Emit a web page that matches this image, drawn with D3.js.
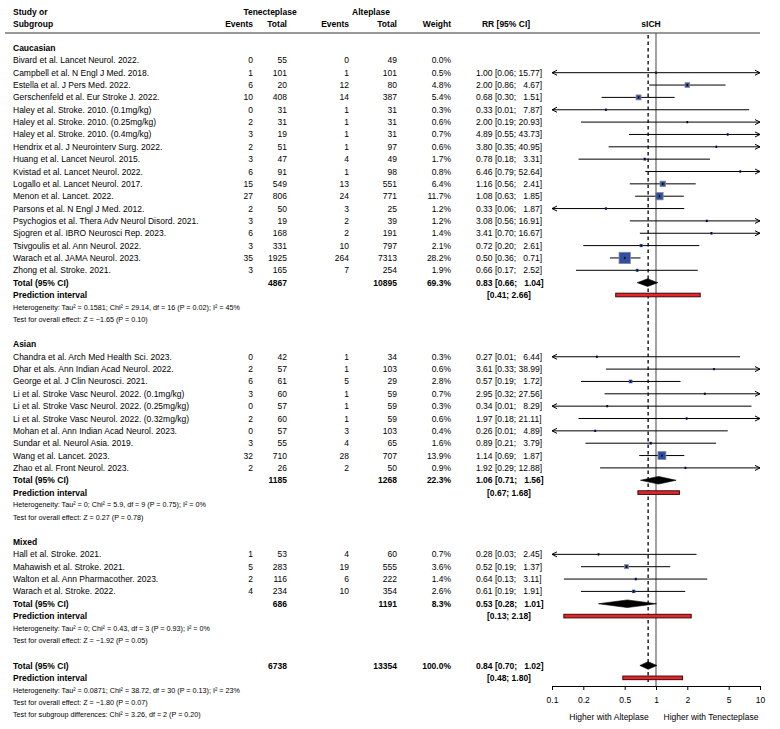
<!DOCTYPE html>
<html><head><meta charset="utf-8">
<script src="https://cdn.jsdelivr.net/npm/d3@7"></script>
<style>
body{margin:0;background:#fff}
svg{display:block}
text{font-family:"Liberation Sans",Arial,Helvetica,sans-serif;white-space:pre;fill:#000}
</style>
</head><body>
<svg id="c" width="780" height="729"></svg>
<script>
// ---------- DATA ----------
// [study, TNK events, TNK total, ALT events, ALT total, weight %, RR, lower, upper]
const caucasian = [
  ["Bivard et al. Lancet Neurol. 2022.", 0, 55, 0, 49, 0.0, null, null, null],
  ["Campbell et al. N Engl J Med. 2018.", 1, 101, 1, 101, 0.5, 1.00, 0.06, 15.77],
  ["Estella et al. J Pers Med. 2022.", 6, 20, 12, 80, 4.8, 2.00, 0.86, 4.67],
  ["Gerschenfeld et al. Eur Stroke J. 2022.", 10, 408, 14, 387, 5.4, 0.68, 0.30, 1.51],
  ["Haley et al. Stroke. 2010. (0.1mg/kg)", 0, 31, 1, 31, 0.3, 0.33, 0.01, 7.87],
  ["Haley et al. Stroke. 2010. (0.25mg/kg)", 2, 31, 1, 31, 0.6, 2.00, 0.19, 20.93],
  ["Haley et al. Stroke. 2010. (0.4mg/kg)", 3, 19, 1, 31, 0.7, 4.89, 0.55, 43.73],
  ["Hendrix et al. J Neurointerv Surg. 2022.", 2, 51, 1, 97, 0.6, 3.80, 0.35, 40.95],
  ["Huang et al. Lancet Neurol. 2015.", 3, 47, 4, 49, 1.7, 0.78, 0.18, 3.31],
  ["Kvistad et al. Lancet Neurol. 2022.", 6, 91, 1, 98, 0.8, 6.46, 0.79, 52.64],
  ["Logallo et al. Lancet Neurol. 2017.", 15, 549, 13, 551, 6.4, 1.16, 0.56, 2.41],
  ["Menon et al. Lancet. 2022.", 27, 806, 24, 771, 11.7, 1.08, 0.63, 1.85],
  ["Parsons et al. N Engl J Med. 2012.", 2, 50, 3, 25, 1.2, 0.33, 0.06, 1.87],
  ["Psychogios et al. Thera Adv Neurol Disord. 2021.", 3, 19, 2, 39, 1.2, 3.08, 0.56, 16.91],
  ["Sjogren et al. IBRO Neurosci Rep. 2023.", 6, 168, 2, 191, 1.4, 3.41, 0.70, 16.67],
  ["Tsivgoulis et al. Ann Neurol. 2022.", 3, 331, 10, 797, 2.1, 0.72, 0.20, 2.61],
  ["Warach et al. JAMA Neurol. 2023.", 35, 1925, 264, 7313, 28.2, 0.50, 0.36, 0.71],
  ["Zhong et al. Stroke. 2021.", 3, 165, 7, 254, 1.9, 0.66, 0.17, 2.52]
];
const asian = [
  ["Chandra et al. Arch Med Health Sci. 2023.", 0, 42, 1, 34, 0.3, 0.27, 0.01, 6.44],
  ["Dhar et als. Ann Indian Acad Neurol. 2022.", 2, 57, 1, 103, 0.6, 3.61, 0.33, 38.99],
  ["George et al. J Clin Neurosci. 2021.", 6, 61, 5, 29, 2.8, 0.57, 0.19, 1.72],
  ["Li et al. Stroke Vasc Neurol. 2022. (0.1mg/kg)", 3, 60, 1, 59, 0.7, 2.95, 0.32, 27.56],
  ["Li et al. Stroke Vasc Neurol. 2022. (0.25mg/kg)", 0, 57, 1, 59, 0.3, 0.34, 0.01, 8.29],
  ["Li et al. Stroke Vasc Neurol. 2022. (0.32mg/kg)", 2, 60, 1, 59, 0.6, 1.97, 0.18, 21.11],
  ["Mohan et al. Ann Indian Acad Neurol. 2023.", 0, 57, 3, 103, 0.4, 0.26, 0.01, 4.89],
  ["Sundar et al. Neurol Asia. 2019.", 3, 55, 4, 65, 1.6, 0.89, 0.21, 3.79],
  ["Wang et al. Lancet. 2023.", 32, 710, 28, 707, 13.9, 1.14, 0.69, 1.87],
  ["Zhao et al. Front Neurol. 2023.", 2, 26, 2, 50, 0.9, 1.92, 0.29, 12.88]
];
const mixed = [
  ["Hall et al. Stroke. 2021.", 1, 53, 4, 60, 0.7, 0.28, 0.03, 2.45],
  ["Mahawish et al. Stroke. 2021.", 5, 283, 19, 555, 3.6, 0.52, 0.19, 1.37],
  ["Walton et al. Ann Pharmacother. 2023.", 2, 116, 6, 222, 1.4, 0.64, 0.13, 3.11],
  ["Warach et al. Stroke. 2022.", 4, 234, 10, 354, 2.6, 0.61, 0.19, 1.91]
];
const subgroupNames = ["Caucasian", "Asian", "Mixed"];
// [TNK total, ALT total, weight, RR, lower, upper, PI lower, PI upper]
const subgroupTotals = [
  [4867, 10895, 69.3, 0.83, 0.66, 1.04, 0.41, 2.66],
  [1185, 1268, 22.3, 1.06, 0.71, 1.56, 0.67, 1.68],
  [686, 1191, 8.3, 0.53, 0.28, 1.01, 0.13, 2.18]
];
const subgroupHet = [
  "Heterogeneity: Tau\u00b2 = 0.1581; Chi\u00b2 = 29.14, df = 16 (P = 0.02); I\u00b2 = 45%",
  "Heterogeneity: Tau\u00b2 = 0; Chi\u00b2 = 5.9, df = 9 (P = 0.75); I\u00b2 = 0%",
  "Heterogeneity: Tau\u00b2 = 0; Chi\u00b2 = 0.43, df = 3 (P = 0.93); I\u00b2 = 0%"
];
const subgroupTest = [
  "Test for overall effect: Z = \u22121.65 (P = 0.10)",
  "Test for overall effect: Z = 0.27 (P = 0.78)",
  "Test for overall effect: Z = \u22121.92 (P = 0.05)"
];
const overallTotal = [6738, 13354, 100.0, 0.84, 0.70, 1.02, 0.48, 1.80];
const overallNotes = [
  "Heterogeneity: Tau\u00b2 = 0.0871; Chi\u00b2 = 38.72, df = 30 (P = 0.13); I\u00b2 = 23%",
  "Test for overall effect: Z = \u22121.80 (P = 0.07)",
  "Test for subgroup differences: Chi\u00b2 = 3.26, df = 2 (P = 0.20)"
];
const axisTicks = [0.1, 0.2, 0.5, 1, 2, 5, 10];
const axisLabels = ["Higher with Alteplase", "Higher with Tenecteplase"];

// ---------- LAYOUT ----------
const svg = d3.select("#c");
const x = d3.scaleLog().domain([0.1, 10]).range([552, 760]);
const ROW0 = 48, DY = 12.35;
const rowY = i => ROW0 + i * DY;
const FS = 8.5, FSS = 7.2;
const col = {name: 13, eT: 253, nT: 287, eA: 349, nA: 397, w: 451, ci: 476, pi: 487};
const f2 = d3.format(".2f"), f1 = d3.format(".1f");
const ciText = (r, l, h) => `${f2(r)} [${f2(l)}; ${h < 10 ? "  " : ""}${f2(h)}]`;

const groups = [caucasian, asian, mixed];
const rows = [];
let idx = 0;
groups.forEach((g, gi) => {
  rows.push({type: "group", label: subgroupNames[gi], i: idx++});
  g.forEach(s => rows.push({type: "study", s, i: idx++}));
  rows.push({type: "total", t: subgroupTotals[gi], i: idx++});
  rows.push({type: "pi", t: subgroupTotals[gi], i: idx++});
  rows.push({type: "note", text: subgroupHet[gi], i: idx++});
  rows.push({type: "note", text: subgroupTest[gi], i: idx++});
  idx++;
});
rows.push({type: "total", t: overallTotal, i: idx++, overall: true});
rows.push({type: "pi", t: overallTotal, i: idx++});
overallNotes.forEach(n => rows.push({type: "note", text: n, i: idx++}));

const yTop = 33, yAxis = 686;

function txt(xp, yp, s, opt = {}) {
  return svg.append("text").attr("x", xp).attr("y", yp)
    .attr("font-size", opt.fs || FS)
    .attr("font-weight", opt.bold ? "bold" : null)
    .attr("text-anchor", opt.anchor || "start")
    .text(s);
}
const hy1 = 15, hy2 = 27;
txt(col.name, hy1, "Study or", {bold: true});
txt(col.name, hy2, "Subgroup", {bold: true});
txt(270, hy1, "Tenecteplase", {bold: true, anchor: "middle"});
txt(371, hy1, "Alteplase", {bold: true, anchor: "middle"});
txt(col.eT, hy2, "Events", {bold: true, anchor: "end"});
txt(col.nT, hy2, "Total", {bold: true, anchor: "end"});
txt(col.eA, hy2, "Events", {bold: true, anchor: "end"});
txt(col.nA, hy2, "Total", {bold: true, anchor: "end"});
txt(col.w, hy2, "Weight", {bold: true, anchor: "end"});
txt(506, hy2, "RR [95% CI]", {bold: true, anchor: "middle"});
txt(651, hy2, "sICH", {bold: true, anchor: "middle"});
svg.append("line").attr("x1", 5).attr("x2", 760).attr("y1", yTop).attr("y2", yTop)
  .attr("stroke", "#333").attr("stroke-width", 1);

// reference lines
svg.append("line").attr("x1", x(1)).attr("x2", x(1)).attr("y1", yTop).attr("y2", yAxis)
  .attr("stroke", "#555").attr("stroke-width", 1.1);
svg.append("line").attr("x1", x(overallTotal[3])).attr("x2", x(overallTotal[3]))
  .attr("y1", yTop + 2).attr("y2", yAxis - 4)
  .attr("stroke", "#000").attr("stroke-width", 1.3).attr("stroke-dasharray", "3.5,3");

const marks = svg.append("g");
function arrow(xp, yp, dir) {
  marks.append("path")
    .attr("d", `M${xp - dir * 5},${yp - 2.5} L${xp},${yp} L${xp - dir * 5},${yp + 2.5}`)
    .attr("fill", "none").attr("stroke", "#000").attr("stroke-width", 1);
}

rows.forEach(r => {
  const cy = rowY(r.i), by = cy + 3;
  if (r.type === "group") {
    txt(col.name, by, r.label, {bold: true});
  } else if (r.type === "study") {
    const [name, eT, nT, eA, nA, w, rr, lo, hi] = r.s;
    txt(col.name, by, name);
    txt(col.eT, by, eT, {anchor: "end"});
    txt(col.nT, by, nT, {anchor: "end"});
    txt(col.eA, by, eA, {anchor: "end"});
    txt(col.nA, by, nA, {anchor: "end"});
    txt(col.w, by, f1(w) + "%", {anchor: "end"});
    if (rr != null) {
      txt(col.ci, by, ciText(rr, lo, hi));
      const x1 = x(Math.max(lo, 0.1)), x2 = x(Math.min(hi, 10));
      marks.append("line").attr("x1", x1).attr("x2", x2).attr("y1", cy).attr("y2", cy)
        .attr("stroke", "#000").attr("stroke-width", 1);
      if (lo < 0.1) arrow(x1, cy, -1);
      if (hi > 10) arrow(x2, cy, 1);
      const side = Math.max(2.13 * Math.sqrt(w), 2.2);
      marks.append("rect").attr("x", x(rr) - side / 2).attr("y", cy - side / 2)
        .attr("width", side).attr("height", side)
        .attr("fill", "#2f4fa5").attr("stroke", side > 4 ? "#8a8a8a" : "none").attr("stroke-width", 0.8);
      marks.append("rect").attr("x", x(rr) - 0.7).attr("y", cy - 1)
        .attr("width", 1.4).attr("height", 2).attr("fill", "#000");
    }
  } else if (r.type === "total") {
    const [nT, nA, w, rr, lo, hi] = r.t;
    txt(col.name, by, "Total (95% CI)", {bold: true});
    txt(col.nT, by, nT, {bold: true, anchor: "end"});
    txt(col.nA, by, nA, {bold: true, anchor: "end"});
    txt(col.w, by, f1(w) + "%", {bold: true, anchor: "end"});
    txt(col.ci, by, ciText(rr, lo, hi), {bold: true});
    const hh = 3.8;
    marks.append("path")
      .attr("d", `M${x(lo)},${cy} L${x(rr)},${cy - hh} L${x(hi)},${cy} L${x(rr)},${cy + hh} Z`)
      .attr("fill", "#000").attr("stroke", "#000").attr("stroke-width", 0.6);
  } else if (r.type === "pi") {
    const pl = r.t[6], pu = r.t[7];
    txt(col.name, by, "Prediction interval", {bold: true});
    txt(col.pi, by, `[${f2(pl)}; ${f2(pu)}]`, {bold: true});
    marks.append("rect").attr("x", x(pl)).attr("y", cy - 1.8)
      .attr("width", x(pu) - x(pl)).attr("height", 3.6)
      .attr("fill", "#e8252b").attr("stroke", "#3a0a0a").attr("stroke-width", 1);
  } else if (r.type === "note") {
    txt(col.name, cy + 2.5, r.text, {fs: FSS});
  }
});

// axis
const ax = svg.append("g").attr("transform", `translate(0,${yAxis})`)
  .call(d3.axisBottom(x).tickValues(axisTicks).tickFormat(d => String(d))
    .tickSize(4).tickSizeOuter(0).tickPadding(7));
ax.select(".domain").attr("stroke", "#000");
ax.selectAll(".tick line").attr("stroke", "#000");
ax.selectAll("text").attr("font-size", FS).attr("font-family", '"Liberation Sans",Arial,sans-serif');
txt(609, 720, axisLabels[0], {anchor: "middle"});
txt(711, 720, axisLabels[1], {anchor: "middle"});
</script>
</body></html>
